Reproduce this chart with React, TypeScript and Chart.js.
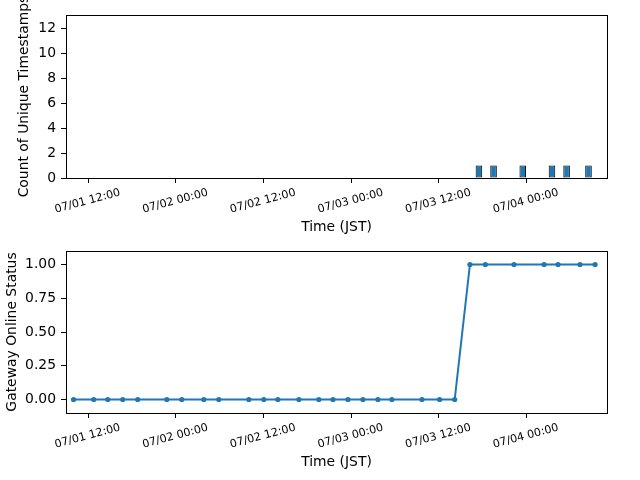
import React, { useEffect, useRef } from "react";
import { Chart, registerables } from "chart.js";

Chart.register(...registerables);
Chart.defaults.font.family = "'DejaVu Sans', sans-serif";
Chart.defaults.color = "#000";

// Shared time axis (hours since 07/01 00:00 JST)
const TIME_TICK_LABELS = [
  "07/01 12:00",
  "07/02 00:00",
  "07/02 12:00",
  "07/03 00:00",
  "07/03 12:00",
  "07/04 00:00",
];
const TIME_MIN = "07/01 08:58";
const TIME_MAX = "07/04 11:02";

// Hourly histogram of unique timestamps, first bin starts at 07/01 10:00
const HIST_FIRST_BIN = "07/01 10:00";
const HOURLY_COUNTS = [
  // 07/01 10:00 - 23:00
  0, 0, 0, 0, 0, 0, 0, 0, 0, 0, 0, 0, 0, 0,
  // 07/02 00:00 - 23:00
  0, 0, 0, 0, 0, 0, 0, 0, 0, 0, 0, 0, 0, 0, 0, 0, 0, 0, 0, 0, 0, 0, 0, 0,
  // 07/03 00:00 - 23:00
  0, 0, 0, 0, 0, 0, 0, 0, 0, 0, 0, 0, 0, 0, 0, 0, 0, 1, 0, 1, 0, 0, 0, 1,
  // 07/04 00:00 - 08:00
  0, 0, 0, 1, 0, 1, 0, 0, 1,
];
const COUNT_TICKS = [0, 2, 4, 6, 8, 10, 12];
const COUNT_MAX = 13.07;

// Gateway online status samples
const STATUS_TIMES = [
  "07/01 10:00", "07/01 12:46", "07/01 14:41", "07/01 16:44", "07/01 18:47", "07/01 22:46",
  "07/02 00:49", "07/02 03:50", "07/02 05:53", "07/02 10:00", "07/02 12:03", "07/02 13:58",
  "07/02 16:51", "07/02 19:35", "07/02 21:31", "07/02 23:34",
  "07/03 01:37", "07/03 03:40", "07/03 05:35", "07/03 09:42", "07/03 12:07", "07/03 14:11",
  "07/03 16:16", "07/03 18:23", "07/03 22:18",
  "07/04 02:25", "07/04 04:20", "07/04 07:20", "07/04 09:24",
];
const STATUS_VALUES = [
  0, 0, 0, 0, 0, 0,
  0, 0, 0, 0, 0, 0,
  0, 0, 0, 0,
  0, 0, 0, 0, 0, 0,
  1, 1, 1,
  1, 1, 1, 1,
];
const STATUS_TICKS = [0, 0.25, 0.5, 0.75, 1];
const STATUS_MIN = -0.1;
const STATUS_MAX = 1.1;

const BLUE = "#1f77b4";

// "MM/DD HH:MM" -> hours since 07/01 00:00
function toHours(stamp: string): number {
  const [date, time] = stamp.split(" ");
  const day = Number(date.split("/")[1]);
  const [h, m] = time.split(":").map(Number);
  return (day - 1) * 24 + h + m / 60;
}

const TIME_TICK_HOURS = TIME_TICK_LABELS.map(toHours);

// Matplotlib-like axes frame plus an unclipped rotated y-axis label
const framePlugin = {
  id: "axesFrame",
  afterDraw(chart: any, _args: any, opts: any) {
    const { ctx, chartArea: a } = chart;
    ctx.save();
    ctx.strokeStyle = "#000";
    ctx.lineWidth = 1;
    const l = Math.floor(a.left) + 0.5;
    const r = Math.floor(a.right) + 0.5;
    const t = Math.floor(a.top) + 0.5;
    const b = Math.floor(a.bottom) + 0.5;
    ctx.strokeRect(l, t, r - l, b - t);
    if (opts && opts.text) {
      ctx.translate(opts.x, (a.top + a.bottom) / 2);
      ctx.rotate(-Math.PI / 2);
      ctx.font = "13.9px 'DejaVu Sans', sans-serif";
      ctx.fillStyle = "#000";
      ctx.textAlign = "center";
      ctx.textBaseline = "middle";
      ctx.fillText(opts.text, 0, 0);
    }
    ctx.restore();
  },
};

function timeAxis(): any {
  return {
    type: "linear",
    min: toHours(TIME_MIN),
    max: toHours(TIME_MAX),
    offset: false,
    afterBuildTicks: (s: any) => {
      s.ticks = TIME_TICK_HOURS.map((v) => ({ value: v }));
    },
    afterFit: (s: any) => {
      s.height = 62;
    },
    ticks: {
      autoSkip: false,
      minRotation: 15,
      maxRotation: 15,
      labelOffset: 32,
      padding: 3,
      color: "#000",
      font: { size: 11.1 },
      callback: (_v: any, i: number) => TIME_TICK_LABELS[i] ?? "",
    },
    grid: {
      display: true,
      drawOnChartArea: false,
      drawTicks: true,
      tickLength: 5,
      tickColor: "#000",
      offset: false,
    },
    border: { display: false },
    title: {
      display: true,
      text: "Time (JST)",
      color: "#000",
      font: { size: 13.9 },
      padding: { top: 0, bottom: 4.6 },
    },
  };
}

function valueAxis(min: number, max: number, ticks: number[], fmt: (v: number) => string): any {
  return {
    type: "linear",
    min,
    max,
    afterBuildTicks: (s: any) => {
      s.ticks = ticks.map((v) => ({ value: v }));
    },
    afterFit: (s: any) => {
      s.width = 66;
      s.paddingTop = 0;
      s.paddingBottom = 0;
    },
    ticks: {
      padding: 5,
      color: "#000",
      font: { size: 13.9 },
      callback: (v: any) => fmt(Number(v)),
    },
    grid: {
      display: true,
      drawOnChartArea: false,
      drawTicks: true,
      tickLength: 5,
      tickColor: "#000",
    },
    border: { display: false },
    title: { display: false },
  };
}

export default function App() {
  const topRef = useRef<HTMLCanvasElement | null>(null);
  const bottomRef = useRef<HTMLCanvasElement | null>(null);

  useEffect(() => {
    const firstBin = toHours(HIST_FIRST_BIN);
    const histData = HOURLY_COUNTS.map((c, i) => ({ x: firstBin + i + 0.5, y: c }));

    const top = new Chart(topRef.current as HTMLCanvasElement, {
      type: "bar",
      data: {
        datasets: [
          {
            data: histData as any,
            backgroundColor: BLUE,
            borderColor: "#000",
            borderWidth: 1,
            borderSkipped: false,
            barPercentage: 0.9,
            categoryPercentage: 1,
          },
        ],
      },
      options: {
        responsive: false,
        animation: false,
        layout: { padding: { top: 15, right: 33, bottom: 0, left: 0 } },
        plugins: {
          legend: { display: false },
          tooltip: { enabled: false },
          axesFrame: { text: "Count of Unique Timestamps", x: 24 },
        } as any,
        scales: {
          x: timeAxis(),
          y: valueAxis(0, COUNT_MAX, COUNT_TICKS, (v) => String(v)),
        },
      },
      plugins: [framePlugin],
    });

    const statusData = STATUS_TIMES.map((t, i) => ({ x: toHours(t), y: STATUS_VALUES[i] }));

    const bottom = new Chart(bottomRef.current as HTMLCanvasElement, {
      type: "line",
      data: {
        datasets: [
          {
            data: statusData as any,
            borderColor: BLUE,
            backgroundColor: BLUE,
            borderWidth: 2,
            pointRadius: 2.6,
            pointBorderWidth: 0,
            pointBackgroundColor: BLUE,
            tension: 0,
            fill: false,
          },
        ],
      },
      options: {
        responsive: false,
        animation: false,
        layout: { padding: { top: 11, right: 33, bottom: 5, left: 0 } },
        plugins: {
          legend: { display: false },
          tooltip: { enabled: false },
          axesFrame: { text: "Gateway Online Status", x: 12.5 },
        } as any,
        scales: {
          x: timeAxis(),
          y: valueAxis(STATUS_MIN, STATUS_MAX, STATUS_TICKS, (v) => v.toFixed(2)),
        },
      },
      plugins: [framePlugin],
    });

    return () => {
      top.destroy();
      bottom.destroy();
    };
  }, []);

  return (
    <div
      style={{
        position: "fixed",
        left: 0,
        top: 0,
        width: 640,
        height: 480,
        background: "#fff",
      }}
    >
      <canvas ref={topRef} width={640} height={240} style={{ display: "block" }} />
      <canvas ref={bottomRef} width={640} height={240} style={{ display: "block" }} />
    </div>
  );
}
